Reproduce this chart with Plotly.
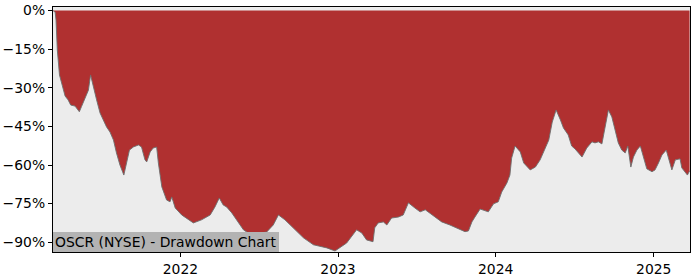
import plotly.graph_objects as go

dates = [
    "2021-03-12", "2021-03-17", "2021-03-19", "2021-03-22", "2021-03-27", "2021-04-01",
    "2021-04-09", "2021-04-16", "2021-04-22", "2021-05-02", "2021-05-12", "2021-05-17",
    "2021-05-25", "2021-06-02", "2021-06-07", "2021-06-13", "2021-06-21", "2021-06-29",
    "2021-07-06", "2021-07-14", "2021-07-22", "2021-07-30", "2021-08-06", "2021-08-14",
    "2021-08-23", "2021-08-30", "2021-09-05", "2021-09-14", "2021-09-26", "2021-10-03",
    "2021-10-11", "2021-10-15", "2021-10-23", "2021-10-30", "2021-11-07", "2021-11-11",
    "2021-11-19", "2021-11-30", "2021-12-08", "2021-12-12", "2021-12-20", "2022-01-04",
    "2022-01-19", "2022-01-31", "2022-02-19", "2022-03-11", "2022-03-22", "2022-04-01",
    "2022-04-10", "2022-04-18", "2022-04-30", "2022-05-15", "2022-05-27", "2022-06-07",
    "2022-06-23", "2022-07-08", "2022-07-20", "2022-08-04", "2022-08-16", "2022-08-31",
    "2022-09-19", "2022-10-13", "2022-11-05", "2022-12-06", "2022-12-25", "2023-01-21",
    "2023-02-13", "2023-02-25", "2023-03-08", "2023-03-20", "2023-03-23", "2023-03-27",
    "2023-04-04", "2023-04-16", "2023-04-24", "2023-05-05", "2023-05-21", "2023-06-01",
    "2023-06-13", "2023-06-28", "2023-07-10", "2023-07-22", "2023-08-06", "2023-08-29",
    "2023-09-17", "2023-10-03", "2023-10-22", "2023-10-30", "2023-11-07", "2023-11-14",
    "2023-11-26", "2023-12-15", "2023-12-27", "2024-01-07", "2024-01-15", "2024-01-27",
    "2024-02-03", "2024-02-07", "2024-02-15", "2024-02-27", "2024-03-06", "2024-03-21",
    "2024-04-02", "2024-04-13", "2024-04-25", "2024-05-03", "2024-05-11", "2024-05-20",
    "2024-05-30", "2024-06-06", "2024-06-17", "2024-06-25", "2024-07-03", "2024-07-15",
    "2024-07-19", "2024-07-30", "2024-08-11", "2024-08-18", "2024-08-26", "2024-09-03",
    "2024-09-11", "2024-09-18", "2024-09-26", "2024-10-04", "2024-10-11", "2024-10-19",
    "2024-10-27", "2024-11-02", "2024-11-09", "2024-11-15", "2024-11-23", "2024-12-01",
    "2024-12-08", "2024-12-16", "2024-12-28", "2025-01-04", "2025-01-12", "2025-01-20",
    "2025-01-30", "2025-02-06", "2025-02-12", "2025-02-20", "2025-03-03", "2025-03-07",
    "2025-03-15", "2025-03-20", "2025-03-25",
]

drawdown_pct = [
    0.0, -0.6, -3.7, -15.3, -25.0, -28.1,
    -33.2, -34.7, -36.7, -37.1, -39.3, -37.3,
    -34.0, -30.9, -25.0, -29.7, -34.7, -39.8,
    -42.5, -45.2, -47.2, -50.3, -55.3, -60.0,
    -63.9, -59.2, -54.2, -53.0, -52.2, -53.0,
    -58.0, -58.8, -54.9, -53.4, -53.0, -59.2,
    -68.5, -73.6, -74.3, -72.4, -76.7, -79.4,
    -81.3, -82.5, -81.3, -79.4, -76.3, -72.8,
    -75.5, -76.3, -78.6, -82.5, -85.2, -86.4,
    -87.2, -86.4, -86.0, -83.3, -79.4, -81.3,
    -84.4, -88.3, -91.0, -92.2, -93.4, -90.3,
    -85.2, -86.4, -89.1, -89.8, -89.8, -84.4,
    -82.5, -82.1, -83.3, -80.6, -80.2, -79.4,
    -74.7, -76.7, -78.2, -77.4, -79.4, -82.1,
    -83.3, -84.4, -85.9, -85.6, -82.1, -80.2,
    -77.1, -78.2, -75.1, -74.3, -70.5, -67.0,
    -63.9, -57.3, -52.6, -54.9, -59.2, -61.9,
    -60.8, -58.0, -53.0, -50.3, -43.3, -38.6,
    -42.5, -45.6, -48.3, -52.6, -53.8, -56.1,
    -56.9, -53.4, -51.0, -51.4, -51.0, -51.8,
    -44.4, -38.6, -41.3, -46.4, -51.4, -54.2,
    -55.3, -52.6, -60.8, -56.9, -54.2, -52.6,
    -56.9, -61.5, -62.6, -61.9, -59.2, -56.1,
    -54.2, -58.0, -61.9, -58.0, -57.6, -61.1,
    -62.7, -63.9, -62.3,
]

y_tick_vals = [0, -15, -30, -45, -60, -75, -90]
y_tick_text = ["0%", "\u221215%", "\u221230%", "\u221245%", "\u221260%", "\u221275%", "\u221290%"]
x_tick_vals = ["2022-01-01", "2023-01-01", "2024-01-01", "2025-01-01"]
x_tick_text = ["2022", "2023", "2024", "2025"]
title_text = "OSCR (NYSE) - Drawdown Chart"

font_family = "DejaVu Sans"
fs = 13.9

fig = go.Figure()
fig.add_trace(go.Scatter(
    x=dates, y=drawdown_pct, mode="lines",
    line=dict(color="rgba(110,110,110,0.9)", width=1),
    fill="tozeroy", fillcolor="#b03030",
    hoverinfo="skip", showlegend=False,
))

fig.update_layout(
    width=700, height=280,
    margin=dict(l=53, r=10, t=7, b=28, autoexpand=False),
    paper_bgcolor="white", plot_bgcolor="#ececec",
    font=dict(family=font_family, size=fs, color="black"),
    xaxis=dict(
        range=["2021-03-12", "2025-03-26"],
        tickvals=x_tick_vals, ticktext=x_tick_text,
        showgrid=False, zeroline=False, automargin=False,
        showline=True, linecolor="black", linewidth=1.2, mirror=True,
        ticks="outside", ticklen=4, tickwidth=1, tickcolor="black",
        tickfont=dict(family=font_family, size=fs),
    ),
    yaxis=dict(
        range=[-93.8, 1.4],
        tickvals=y_tick_vals, ticktext=y_tick_text,
        showgrid=False, zeroline=False, automargin=False,
        showline=True, linecolor="black", linewidth=1.2, mirror=True,
        ticks="outside", ticklen=4, tickwidth=1, tickcolor="black",
        tickfont=dict(family=font_family, size=fs),
    ),
    annotations=[dict(
        text=title_text, xref="paper", yref="paper", x=0, y=0,
        xanchor="left", yanchor="bottom", showarrow=False,
        font=dict(family=font_family, size=fs, color="black"),
        bgcolor="#b3b3b3", borderpad=2, borderwidth=0,
    )],
)

fig.write_html("out.html")
